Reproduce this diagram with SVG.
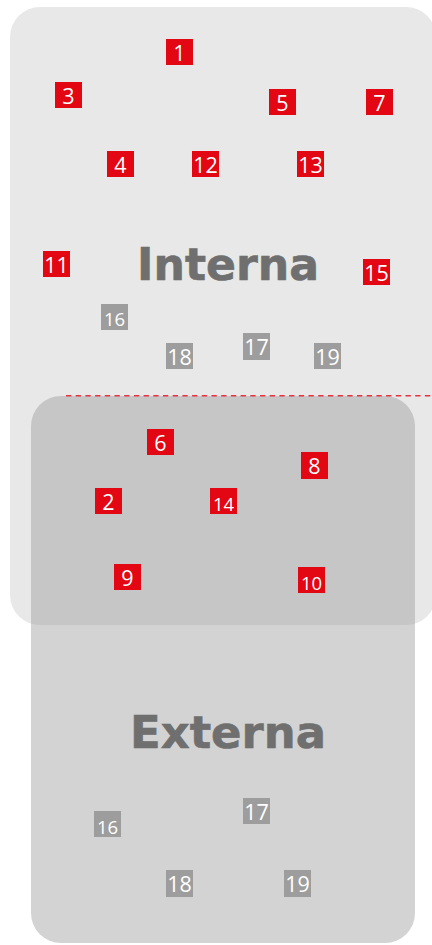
<svg xmlns="http://www.w3.org/2000/svg" width="432" height="945" viewBox="0 0 432 945">
<style>
.r{fill:#e30613}
.g{fill:#9d9d9d}
.t{font-family:"Open Sans","Liberation Sans",sans-serif;font-size:21.5px;fill:#ffffff;text-anchor:middle}
.s{font-size:18.5px}
.big{font-family:"DejaVu Sans","Liberation Sans",sans-serif;font-weight:bold;font-size:45px;fill:#6f6f6f;stroke:#6f6f6f;stroke-width:0.6px;text-anchor:middle}
</style>
<rect width="432" height="945" fill="#ffffff"/>
<g id="interna">
<rect x="10" y="7" width="426" height="618" rx="30" fill="#e8e8e8"/>
<text class="big" x="228" y="280" textLength="182" lengthAdjust="spacingAndGlyphs">Interna</text>
</g>
<g id="externa">
<rect x="31" y="396" width="384" height="547" rx="30" fill="#9a9a9a" fill-opacity="0.435"/>
<text class="big" x="228" y="748" textLength="196" lengthAdjust="spacingAndGlyphs">Externa</text>
</g>
<g id="connectors">
<line x1="66" y1="395.7" x2="432" y2="395.7" stroke="#e8313f" stroke-width="1.6" stroke-dasharray="5.3 4.4"/>
</g>
<g id="n1"><rect class="r" x="166" y="39" width="27" height="26"/><text class="t" x="179.5" y="61">1</text></g>
<g id="n3"><rect class="r" x="55" y="82" width="27" height="26"/><text class="t" x="68.5" y="104">3</text></g>
<g id="n5"><rect class="r" x="269" y="89" width="27" height="26"/><text class="t" x="282.5" y="111">5</text></g>
<g id="n7"><rect class="r" x="366" y="89" width="27" height="26"/><text class="t" x="379.5" y="111">7</text></g>
<g id="n4"><rect class="r" x="107" y="151" width="27" height="26"/><text class="t" x="120.5" y="173">4</text></g>
<g id="n12"><rect class="r" x="192" y="151" width="27" height="26"/><text class="t" x="205.5" y="173">12</text></g>
<g id="n13"><rect class="r" x="297" y="151" width="27" height="26"/><text class="t" x="310.5" y="173">13</text></g>
<g id="n11"><rect class="r" x="43" y="251" width="27" height="26"/><text class="t" x="56.5" y="273">11</text></g>
<g id="n15"><rect class="r" x="363" y="259" width="27" height="26"/><text class="t" x="376.5" y="281">15</text></g>
<g id="n16a"><rect class="g" x="101" y="304" width="27" height="26"/><text class="t s" x="114.5" y="326">16</text></g>
<g id="n18a"><rect class="g" x="166" y="343" width="27" height="26"/><text class="t" x="179.5" y="365">18</text></g>
<g id="n17a"><rect class="g" x="243" y="333" width="27" height="27"/><text class="t" x="256.5" y="355">17</text></g>
<g id="n19a"><rect class="g" x="314" y="343" width="27" height="26"/><text class="t" x="327.5" y="365">19</text></g>
<g id="n6"><rect class="r" x="147" y="429" width="27" height="26"/><text class="t" x="160.5" y="451">6</text></g>
<g id="n8"><rect class="r" x="301" y="452" width="27" height="27"/><text class="t" x="314.5" y="474">8</text></g>
<g id="n2"><rect class="r" x="95" y="488" width="27" height="26"/><text class="t" x="108.5" y="510">2</text></g>
<g id="n14"><rect class="r" x="210" y="488" width="27" height="26"/><text class="t s" x="223.5" y="510.5">14</text></g>
<g id="n9"><rect class="r" x="114" y="564" width="27" height="26"/><text class="t" x="127.5" y="586">9</text></g>
<g id="n10"><rect class="r" x="298" y="567" width="27" height="26"/><text class="t s" x="311.5" y="589.5">10</text></g>
<g id="n16b"><rect class="g" x="94" y="811" width="27" height="26"/><text class="t s" x="107.5" y="833.5">16</text></g>
<g id="n17b"><rect class="g" x="243" y="798" width="27" height="26"/><text class="t" x="256.5" y="820">17</text></g>
<g id="n18b"><rect class="g" x="166" y="870" width="27" height="27"/><text class="t" x="179.5" y="892">18</text></g>
<g id="n19b"><rect class="g" x="284" y="870" width="27" height="27"/><text class="t" x="297.5" y="892">19</text></g>
</svg>
